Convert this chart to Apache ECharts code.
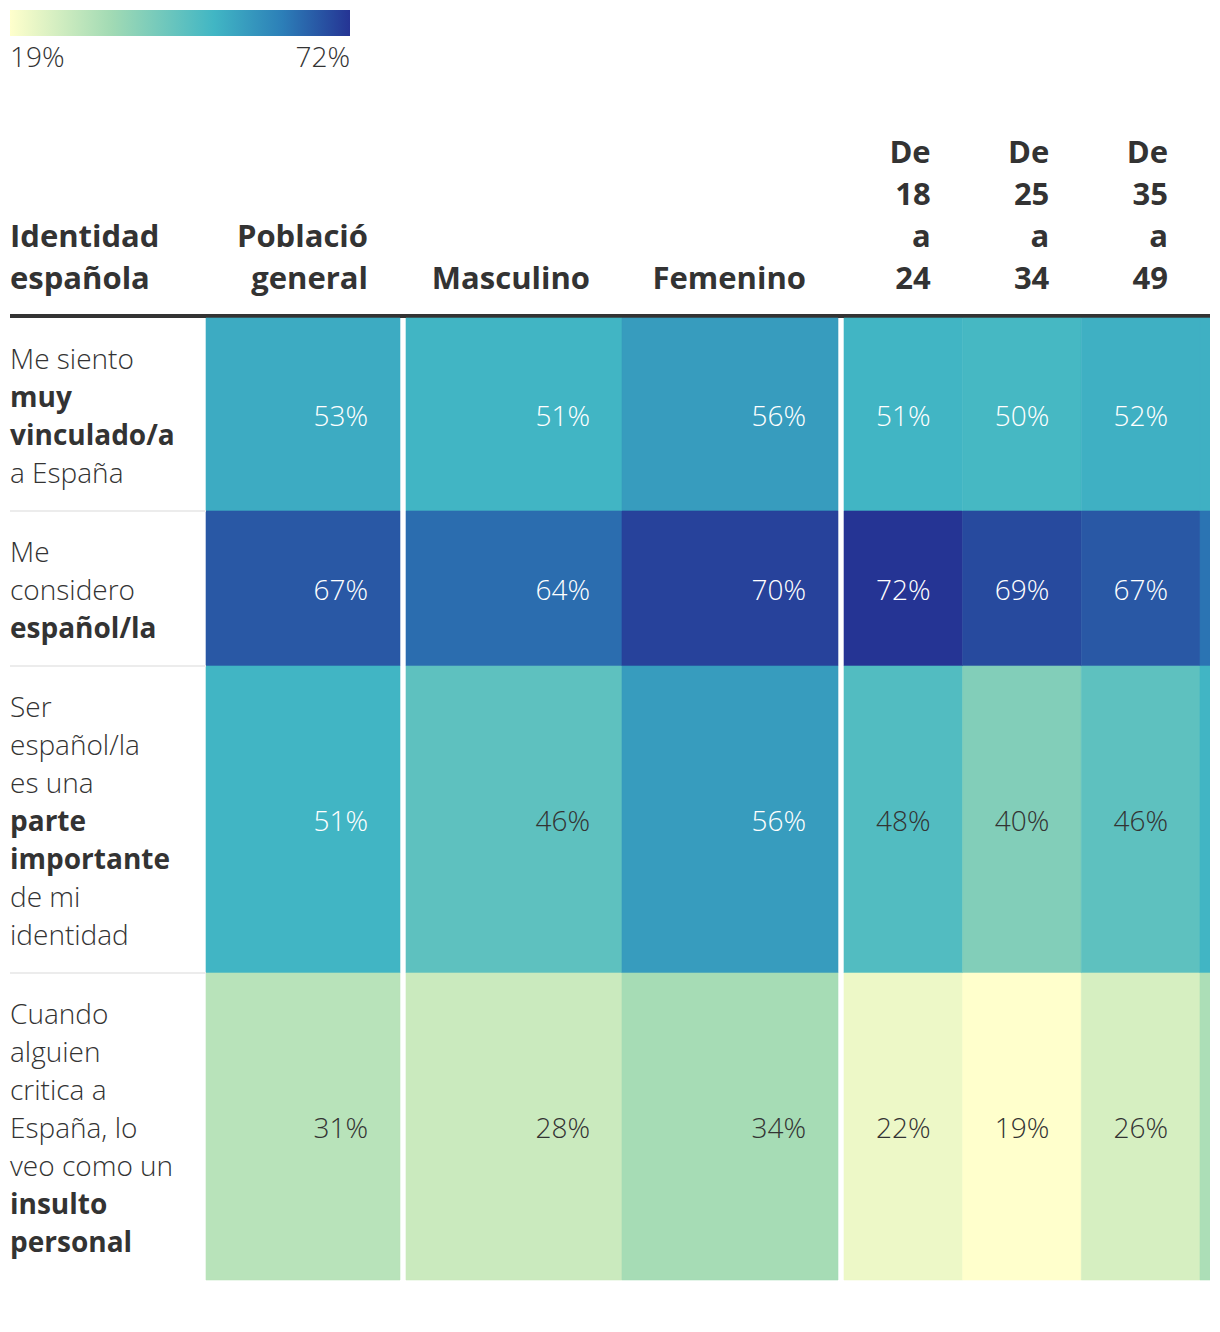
<!DOCTYPE html>
<html>
<head>
<meta charset="utf-8">
<script src="https://cdn.jsdelivr.net/npm/echarts@6/dist/echarts.min.js"></script>
<style>
html,body{margin:0;padding:0;background:#fff;overflow:hidden}
#wrap{width:1210px;height:1332px;overflow:hidden;position:relative}
#chart{width:1340px;height:1332px}
</style>
</head>
<body>
<div id="wrap"><div id="chart"></div></div>
<script>
// ---------------- DATA ----------------
const rowHeaderTitle = 'Identidad\nespañola';
const rowLabels = [
  ['Me siento', '**muy**', '**vinculado/a**', 'a España'],
  ['Me', 'considero', '**español/la**'],
  ['Ser', 'español/la', 'es una', '**parte**', '**importante**', 'de mi', 'identidad'],
  ['Cuando', 'alguien', 'critica a', 'España, lo', 'veo como un', '**insulto**', '**personal**']
];
const columnLabels = ['Població\ngeneral', 'Masculino', 'Femenino', 'De\n18\na\n24', 'De\n25\na\n34', 'De\n35\na\n49', 'De\n50\na\n64'];
const poblacionGeneral = [53, 67, 51, 31];
const masculino        = [51, 64, 46, 28];
const femenino         = [56, 70, 56, 34];
const de18a24          = [51, 72, 48, 22];
const de25a34          = [50, 69, 40, 19];
const de35a49          = [52, 67, 46, 26];
const de50a64          = [52, 63, 51, 33];
const scaleMin = 19;
const scaleMax = 72;
const legendLabels = ['19%', '72%'];

const columnValues = [poblacionGeneral, masculino, femenino, de18a24, de25a34, de35a49, de50a64];

// ---------------- LAYOUT / STYLE ----------------
const FONT = "'Open Sans', 'Noto Sans', sans-serif";
const TEXT = '#333333';
const BODY_SIZE = 28;
const HEAD_SIZE = 31;
const TOP = 318;
const LINE_H = 38;
const ROW_PAD = 41;
const CELL_PAD = 32;
const VISIBLE_W = 1210; // the table is cut by its frame at this width
const rowHeights = rowLabels.map(l => l.length * LINE_H + ROW_PAD);
const rowStarts = [];
rowHeights.reduce((acc, h) => { rowStarts.push(acc); return acc + h; }, 0);
const totalH = rowHeights.reduce((a, b) => a + b, 0);

const groups = [
  { left: 206, width: 194, cols: [0] },
  { left: 406, width: 432, cols: [1, 2] },
  { left: 844, width: 356 / 3 * 4, cols: [3, 4, 5, 6] }
];

const colorStops = [[0, '#ffffcc'], [0.3, '#a1dab4'], [0.6, '#41b6c4'], [0.8, '#2c7fb8'], [1, '#253494']];
function hex2rgb(h) { return [1, 3, 5].map(i => parseInt(h.substr(i, 2), 16)); }
function rampAt(t) {
  for (let i = 1; i < colorStops.length; i++) {
    if (t <= colorStops[i][0] + 1e-9) {
      const [t0, c0] = colorStops[i - 1], [t1, c1] = colorStops[i];
      const f = (t - t0) / (t1 - t0);
      const a = hex2rgb(c0), b = hex2rgb(c1);
      return 'rgb(' + a.map((v, k) => Math.round(v + (b[k] - v) * f)).join(',') + ')';
    }
  }
  return colorStops[colorStops.length - 1][1];
}
const rampColors = [];
for (let i = 0; i <= 10; i++) rampColors.push(rampAt(i / 10));

function richLabel(lines) {
  return lines.map(l => l.startsWith('**') ? '{b|' + l.slice(2, -2) + '}' : '{n|' + l + '}').join('\n');
}

const chart = echarts.init(document.getElementById('chart'), null, { renderer: 'svg' });

const cellSeries = groups.map((g, gi) => {
  const data = [];
  g.cols.forEach((c, j) => {
    columnValues[c].forEach((v, r) => data.push([j, r, v]));
  });
  return {
    type: 'custom',
    xAxisIndex: gi,
    yAxisIndex: gi,
    encode: { x: 0, y: 1 },
    silent: true,
    data: data,
    renderItem: function (params, api) {
      const j = api.value(0), r = api.value(1), v = api.value(2);
      const c = g.cols[j];
      const bw = api.size([1, 0])[0];
      const p0 = api.coord([j, rowStarts[r]]);
      const p1 = api.coord([j, rowStarts[r] + rowHeights[r]]);
      const x0 = p0[0] - bw / 2;
      const color = api.visual('color');
      const children = [
        { type: 'rect', shape: { x: x0, y: p0[1], width: bw, height: p1[1] - p0[1] },
          style: { fill: color, stroke: color, lineWidth: 0.6 } }
      ];
      const textX = x0 + bw - CELL_PAD;
      if (textX <= VISIBLE_W) {
        children.push({ type: 'text', x: textX, y: (p0[1] + p1[1]) / 2,
          style: { text: v + '%', fill: v >= 50 ? '#ffffff' : TEXT, fontFamily: FONT, fontSize: BODY_SIZE, fontWeight: 300,
                   align: 'right', verticalAlign: 'middle' } });
        if (r === 0) {
          children.push({ type: 'text', x: textX, y: p0[1] - 20,
            style: { text: columnLabels[c], fill: TEXT, fontFamily: FONT, fontSize: HEAD_SIZE, fontWeight: 700,
                     lineHeight: 42, align: 'right', verticalAlign: 'bottom' } });
        }
      }
      return { type: 'group', children: children };
    }
  };
});

const labelSeries = {
  type: 'custom',
  xAxisIndex: 0,
  yAxisIndex: 0,
  silent: true,
  data: rowLabels.map((l, r) => [0, r]),
  encode: { x: 0, y: 1 },
  renderItem: function (params, api) {
    const r = api.value(1);
    const y0 = api.coord([0, rowStarts[r]])[1];
    const y1 = api.coord([0, rowStarts[r] + rowHeights[r]])[1];
    const x = params.coordSys.x - 196;
    const children = [
      { type: 'text', x: x, y: y0 + 21,
        style: { text: richLabel(rowLabels[r]), align: 'left', verticalAlign: 'top',
                 rich: {
                   n: { fill: TEXT, fontFamily: FONT, fontSize: BODY_SIZE, fontWeight: 300, lineHeight: LINE_H },
                   b: { fill: TEXT, fontFamily: FONT, fontSize: BODY_SIZE, fontWeight: 700, lineHeight: LINE_H }
                 } } }
    ];
    if (r < rowLabels.length - 1) {
      children.push({ type: 'line', shape: { x1: x, y1: y1, x2: params.coordSys.x, y2: y1 },
                      style: { stroke: '#ececec', lineWidth: 2 } });
    }
    if (r === 0) {
      children.push({ type: 'text', x: x, y: y0 - 20,
        style: { text: rowHeaderTitle, fill: TEXT, fontFamily: FONT, fontSize: HEAD_SIZE, fontWeight: 700,
                 lineHeight: 42, align: 'left', verticalAlign: 'bottom' } });
    }
    return { type: 'group', children: children };
  }
};

const option = {
  backgroundColor: '#ffffff',
  animation: false,
  grid: groups.map(g => ({ left: g.left, top: TOP, width: g.width, height: totalH })),
  xAxis: groups.map((g, gi) => ({ type: 'category', gridIndex: gi, data: g.cols.map(c => columnLabels[c]), show: false })),
  yAxis: groups.map((g, gi) => ({ type: 'value', gridIndex: gi, min: 0, max: totalH, inverse: true, show: false })),
  visualMap: {
    show: false,
    type: 'continuous',
    min: scaleMin,
    max: scaleMax,
    dimension: 2,
    seriesIndex: [0, 1, 2],
    inRange: { color: rampColors }
  },
  graphic: [
    { type: 'rect', left: 10, top: 10, shape: { width: 340, height: 26 },
      style: { fill: new echarts.graphic.LinearGradient(0, 0, 1, 0, colorStops.map(s => ({ offset: s[0], color: s[1] }))) } },
    { type: 'text', x: 10, y: 56, style: { text: legendLabels[0], fill: TEXT, fontFamily: FONT, fontSize: BODY_SIZE, fontWeight: 300, align: 'left', verticalAlign: 'middle' } },
    { type: 'text', x: 350, y: 56, style: { text: legendLabels[1], fill: TEXT, fontFamily: FONT, fontSize: BODY_SIZE, fontWeight: 300, align: 'right', verticalAlign: 'middle' } },
    { type: 'line', shape: { x1: 10, y1: TOP - 2, x2: VISIBLE_W, y2: TOP - 2 }, style: { stroke: '#333333', lineWidth: 4 } }
  ],
  series: cellSeries.concat([labelSeries])
};
chart.setOption(option);
</script>
</body>
</html>
